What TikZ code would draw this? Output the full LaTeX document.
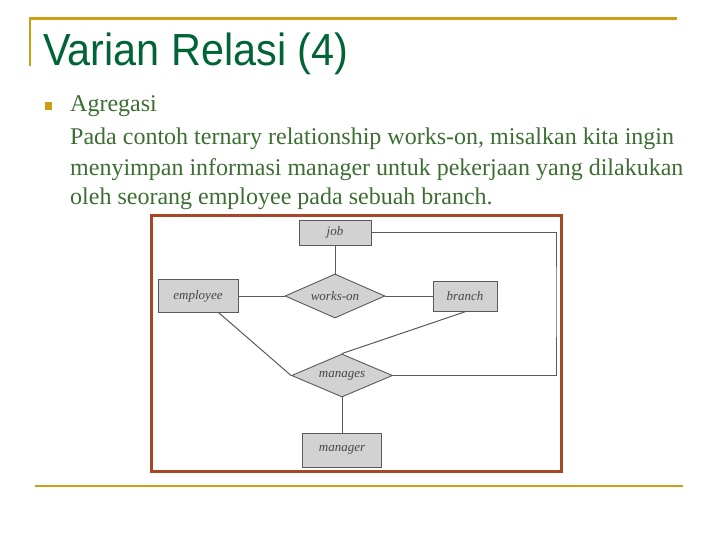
\documentclass[tikz,border=0pt]{standalone}
\usepackage{fontspec}
\setmainfont{Liberation Serif}
\newfontfamily\titlefont{Liberation Sans}
\usetikzlibrary{shapes.geometric}
\definecolor{gold}{RGB}{204,158,20}
\definecolor{titlegreen}{RGB}{0,100,55}
\definecolor{bodygreen}{RGB}{60,110,50}
\definecolor{framered}{RGB}{168,70,40}
\definecolor{erfill}{RGB}{210,210,210}
\definecolor{erline}{RGB}{90,90,90}
\definecolor{ertext}{RGB}{70,70,70}
\tikzset{
  rule/.style={gold, line width=2.5pt},
  bodytext/.style={anchor=base west, inner sep=0pt, text=bodygreen, font=\fontsize{24}{28}\selectfont},
  ent/.style={rectangle, draw=erline, fill=erfill, line width=0.9pt, inner sep=0pt, text=ertext, font=\itshape\fontsize{13}{15}\selectfont},
  rel/.style={diamond, shape aspect=2.3, draw=erline, fill=erfill, line width=0.9pt, inner sep=0pt, text=ertext, font=\itshape\fontsize{13}{15}\selectfont},
  link/.style={erline, line width=1pt}
}
\begin{document}
\begin{tikzpicture}[x=1pt,y=-1pt]
\useasboundingbox (0,0) rectangle (720,540);
% header rules
\draw[rule] (30,18.3) -- (677,18.3);
\draw[rule] (30,17) -- (30,66);
\draw[rule] (35,486) -- (683,486);
% title
\node[anchor=base west, inner sep=0pt, text=titlegreen] (title) at (43,66)
  {\scalebox{0.92}[1]{\titlefont\fontsize{45}{54}\selectfont Varian Relasi (4)}};
% bullet
\node[fill=gold, minimum size=7.5pt, inner sep=0pt] (bullet) at (48.5,106) {};
% body
\node[bodytext] (l1) at (70,112) {Agregasi};
\node[bodytext] (l2) at (70,145) {Pada contoh ternary relationship works-on, misalkan kita ingin};
\node[bodytext] (l3) at (70,176) {menyimpan informasi manager untuk pekerjaan yang dilakukan};
\node[bodytext] (l4) at (70,205) {oleh seorang employee pada sebuah branch.};
% diagram frame
\fill[white] (151.5,215.5) rectangle (561.5,471.5);
\draw[framered, line width=3pt] (151.5,215.5) rectangle (561.5,471.5);
% ER nodes
\node[ent, minimum width=72pt, minimum height=25pt] (job) at (335,232.5) {job};
\node[ent, minimum width=80pt, minimum height=33pt] (employee) at (198,296) {employee};
\node[ent, minimum width=64pt, minimum height=30pt] (branch) at (465,296) {branch};
\node[ent, minimum width=79pt, minimum height=34pt] (manager) at (342,450) {manager};
\node[rel, minimum width=100pt, minimum height=44pt] (workson) at (335,296) {works-on};
\node[rel, minimum width=101pt, minimum height=43pt] (manages) at (342,375.5) {manages};
\coordinate (rt) at (556,300);
% connectors
\draw[link] (job.south) -- (workson.north);
\draw[link] (employee.east) -- (workson.west);
\draw[link] (workson.east) -- (branch.west);
\draw[link] ([xshift=21pt]employee.south) -- (manages.west);
\draw[link] ([xshift=1pt]branch.south) -- (manages.north);
\draw[link] (manages.south) -- (manager.north);
\draw[link] (job.east) -| (rt) |- (manages.east);
\end{tikzpicture}
\end{document}
